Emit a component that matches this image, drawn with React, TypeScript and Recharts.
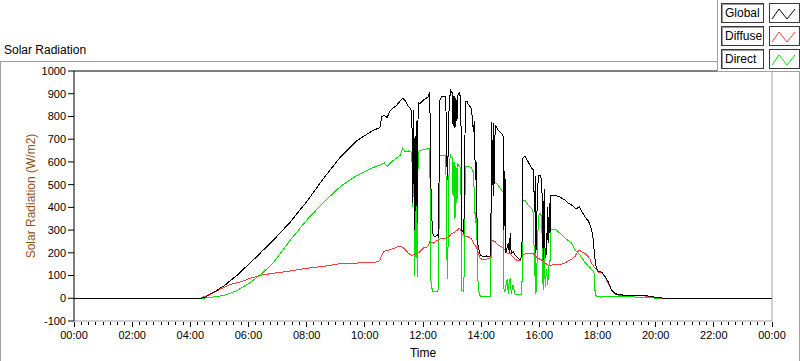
import { LineChart, Line, XAxis, YAxis, ReferenceLine, Legend } from 'recharts';

// minutes after midnight
const minutes = [
  0, 239, 260, 270, 281, 291, 301, 312, 322, 336, 349, 363, 377, 387, 411, 446, 480, 514, 549, 583,
  618, 631, 635, 640, 646, 652, 658, 666, 673, 678, 683, 690, 695, 697, 699, 701, 703, 706, 708, 710,
  714, 721, 730, 734, 736, 739, 741, 745, 749, 752, 753, 755, 759, 765, 767, 770, 772, 774, 777, 780,
  782, 784, 786, 788, 790, 792, 795, 798, 800, 803, 806, 807, 811, 813, 820, 824, 826, 828, 830, 832,
  834, 838, 844, 851, 857, 860, 861, 863, 865, 866, 869, 875, 882, 886, 887, 889, 891, 894, 896, 898,
  900, 902, 906, 910, 913, 920, 924, 926, 930, 937, 944, 948, 950, 952, 953, 956, 958, 961, 965, 967,
  968, 970, 972, 975, 977, 978, 981, 982, 984, 992, 1003, 1013, 1020, 1027, 1034, 1037, 1042, 1047, 1054, 1061,
  1065, 1068, 1071, 1073, 1075, 1076, 1078, 1082, 1089, 1096, 1102, 1109, 1116, 1123, 1151, 1178, 1205, 1219, 1440,
];

const globalVals = [
  0, 0, 0, 3, 19, 29, 44, 58, 77, 100, 127, 155, 183, 205, 255, 335, 425, 525, 620, 693,
  740, 750, 800, 805, 795, 825, 836, 850, 868, 880, 870, 843, 832, 814, 420, 830, 300, 780, 330, 860,
  858, 873, 885, 905, 520, 315, 278, 270, 280, 270, 500, 872, 890, 890, 880, 520, 650, 860, 916, 905,
  760, 890, 750, 880, 780, 895, 902, 880, 300, 290, 400, 865, 868, 855, 836, 733, 780, 520, 600, 256,
  226, 190, 183, 186, 183, 190, 777, 500, 770, 450, 762, 740, 725, 710, 300, 560, 200, 230, 242, 200,
  286, 195, 205, 190, 183, 170, 185, 616, 625, 600, 572, 565, 380, 540, 200, 450, 542, 542, 520, 300,
  170, 482, 180, 198, 400, 242, 420, 286, 454, 454, 445, 432, 418, 410, 396, 393, 403, 385, 359, 340,
  322, 300, 264, 210, 168, 145, 135, 117, 115, 95, 73, 36, 22, 15, 13, 12, 3, 0, 0,
];

const diffuseVals = [
  -2, -2, 0, 8, 18, 28, 40, 50, 60, 68, 76, 88, 96, 102, 110, 120, 132, 140, 152, 155,
  157, 165, 190, 207, 210, 214, 218, 225, 230, 225, 215, 198, 190, 188, 190, 192, 195, 196, 198, 200,
  205, 221, 227, 249, 249, 245, 242, 248, 256, 256, 258, 260, 264, 262, 265, 268, 270, 272, 280, 286,
  288, 290, 292, 295, 298, 302, 308, 300, 285, 278, 275, 274, 271, 271, 262, 242, 238, 232, 225, 212,
  200, 176, 168, 172, 176, 180, 256, 256, 254, 250, 248, 234, 227, 220, 215, 212, 205, 198, 198, 196,
  195, 190, 180, 172, 168, 165, 185, 190, 195, 198, 198, 195, 190, 186, 183, 178, 176, 172, 168, 165,
  161, 158, 155, 150, 148, 146, 146, 146, 146, 148, 148, 155, 165, 172, 185, 198, 212, 205, 198, 183,
  170, 154, 145, 138, 132, 130, 128, 115, 112, 93, 66, 34, 20, 13, 11, 10, 2, -2, -2,
];

const directVals = [
  0, 0, 0, 1, 4, 7, 10, 15, 22, 34, 50, 68, 92, 108, 155, 255, 344, 420, 491, 540,
  576, 586, 590, 596, 580, 594, 605, 618, 630, 660, 645, 648, 645, 640, 400, 640, 100, 560, 95, 645,
  650, 655, 658, 660, 85, 36, 29, 29, 29, 40, 300, 628, 628, 628, 625, 85, 260, 600, 630, 620,
  450, 600, 350, 580, 420, 590, 582, 570, 36, 30, 150, 582, 582, 582, 575, 553, 450, 330, 400, 200,
  36, 10, 10, 10, 10, 10, 520, 503, 505, 508, 510, 498, 476, 465, 40, 30, 54, 85, 17, 80,
  85, 20, 60, 17, 15, 15, 17, 432, 432, 410, 396, 374, 100, 350, 20, 200, 359, 374, 359, 100,
  36, 300, 50, 130, 60, 85, 170, 160, 300, 305, 286, 264, 253, 242, 212, 205, 195, 180, 158, 142,
  135, 126, 118, 110, 30, 15, 10, 7, 5, 10, 10, 8, 7, 7, 6, 4, 0, 0, 0,
];

const yTicks = [-100, 0, 100, 200, 300, 400, 500, 600, 700, 800, 900, 1000];
const hourLabels = ['00:00', '02:00', '04:00', '06:00', '08:00', '10:00', '12:00', '14:00', '16:00', '18:00', '20:00', '22:00', '00:00'];
const majorTicks = hourLabels.map((_, i) => i * 120);
const allTicks = Array.from({ length: 97 }, (_, i) => i * 15);

const series = [
  { key: 'global', name: 'Global', color: '#000000' },
  { key: 'diffuse', name: 'Diffuse', color: '#ff3c3c' },
  { key: 'direct', name: 'Direct', color: '#00e400' },
];
// plot order: global drawn last so it sits on top
const drawOrder = ['direct', 'diffuse', 'global'];

const data = minutes.map((t, i) => ({
  t,
  global: globalVals[i],
  diffuse: diffuseVals[i],
  direct: directVals[i],
}));

const font = "'Liberation Sans', Arial, sans-serif";

function TimeTick({ x, y, payload }: any) {
  const i = majorTicks.indexOf(payload.value);
  const major = i >= 0;
  return (
    <g>
      <line x1={x} x2={x} y1={y + 1} y2={y + (major ? 6 : 4)} stroke="#000" shapeRendering="crispEdges" />
      {major && (
        <text x={x} y={y + 18} textAnchor="middle" fontSize={11} fontFamily={font} fill="#000">
          {hourLabels[i]}
        </text>
      )}
    </g>
  );
}

const renderYLabel = (props: any) => {
  const vb = props.viewBox || { x: 0, y: 71, height: 250 };
  const cx = 31;
  const cy = vb.y + vb.height / 2;
  return (
    <text
      x={cx}
      y={cy}
      transform={`rotate(-90, ${cx}, ${cy})`}
      textAnchor="middle"
      dominantBaseline="central"
      fontSize={12}
      fontFamily={font}
      fill="#8e5215"
    >
      Solar Radiation (W/m2)
    </text>
  );
};

function LegendBox() {
  return (
    <div
      style={{
        width: 83,
        height: 72,
        background: '#fff',
        borderLeft: '1px solid #a0a0a0',
        borderBottom: '1px solid #a0a0a0',
        boxSizing: 'border-box',
        position: 'relative',
        fontFamily: font,
        fontSize: 12,
      }}
    >
      {series.map((s, i) => (
        <div key={s.key}>
          <div
            style={{
              position: 'absolute',
              left: 3,
              top: 3 + i * 23,
              width: 43,
              height: 20,
              boxSizing: 'border-box',
              border: '1px solid #3a3a3a',
              boxShadow: 'inset 1px 1px 0 #9a9a9a',
              lineHeight: '18px',
              paddingLeft: 3,
              color: '#000',
            }}
          >
            {s.name}
          </div>
          <svg
            width={31}
            height={20}
            style={{ position: 'absolute', left: 51, top: 3 + i * 23, border: '1px solid #3a3a3a', boxSizing: 'border-box' }}
          >
            <polyline points="2,15 9,5 17,15 25,5" fill="none" stroke={s.color} strokeWidth={1} />
          </svg>
        </div>
      ))}
    </div>
  );
}

export default function App() {
  return (
    <div style={{ position: 'absolute', left: 0, top: 0, width: 800, height: 361, background: '#fff', overflow: 'hidden' }}>
      <div
        style={{
          position: 'absolute',
          left: 0,
          top: 61,
          width: 800,
          height: 320,
          border: '1px solid #a0a0a0',
          boxSizing: 'border-box',
        }}
      />
      <div style={{ position: 'absolute', left: 4, top: 44, fontFamily: font, fontSize: 12, lineHeight: '12px', color: '#000' }}>
        Solar Radiation
      </div>
      <LineChart width={800} height={361} data={data} margin={{ top: 71, right: 28, left: 0, bottom: 0 }}>
        <XAxis
          dataKey="t"
          type="number"
          domain={[0, 1440]}
          ticks={allTicks}
          interval={0}
          tickSize={0}
          tickMargin={0}
          tickLine={false}
          tick={<TimeTick />}
          height={40}
          axisLine={{ stroke: '#a0a0a0' }}
          label={{ value: 'Time', position: 'insideBottom', offset: 4, fill: '#000', fontSize: 12, fontFamily: font }}
        />
        <YAxis
          type="number"
          domain={[-100, 1000]}
          ticks={yTicks}
          interval={0}
          width={74}
          tickSize={6}
          tickMargin={2}
          axisLine={{ stroke: '#000' }}
          tickLine={{ stroke: '#000' }}
          tick={{ fill: '#000', fontSize: 11, fontFamily: font }}
          label={renderYLabel}
        />
        <ReferenceLine y={1000} stroke="#000" />
        <ReferenceLine x={1440} stroke="#a0a0a0" />
        {drawOrder.map((k) => {
          const s = series.find((d) => d.key === k)!;
          return (
            <Line
              key={s.key}
              dataKey={s.key}
              name={s.name}
              type="linear"
              stroke={s.color}
              strokeWidth={1}
              shapeRendering="crispEdges"
              dot={false}
              activeDot={false}
              isAnimationActive={false}
            />
          );
        })}
        <Legend
          layout="vertical"
          align="center"
          verticalAlign="middle"
          wrapperStyle={{ left: 717, top: 0, width: 83, height: 72 }}
          content={() => <LegendBox />}
        />
      </LineChart>
    </div>
  );
}
